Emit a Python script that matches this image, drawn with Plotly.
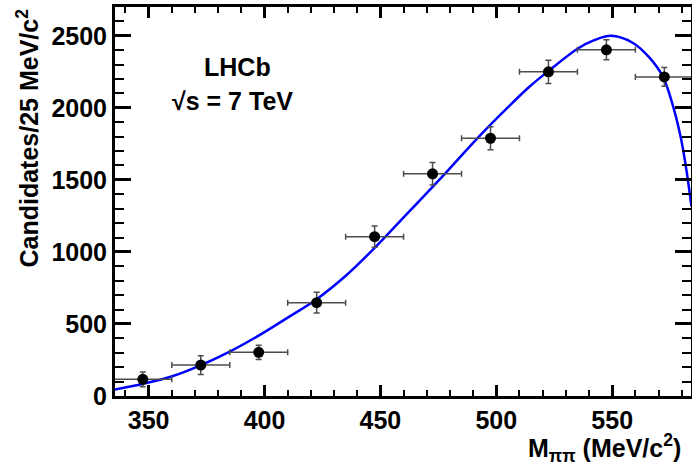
import plotly.graph_objects as go

# Data points (bin centres, 25 MeV bins)
mass = [347.5, 372.5, 397.5, 422.5, 447.5, 472.5, 497.5, 522.5, 547.5, 572.5]
counts = [116, 215, 303, 648, 1106, 1542, 1789, 2250, 2403, 2215]
count_err = [51, 65, 49, 72, 74, 78, 79, 81, 69, 65]
bin_half_width = 12.5

# Fit curve samples
fit_x = [335.5, 347.7, 360.2, 372.1, 385.0, 398.0, 410.2, 422.5, 435.3, 447.5,
         458.3, 478.4, 491.6, 503.0, 514.4, 523.0, 535.2, 542.0, 549.5, 558.8,
         566.0, 572.0, 576.1, 579.7, 582.2, 584.2]
fit_y = [45, 85, 137, 211, 308, 424, 546, 672, 838, 1028,
         1210, 1552, 1785, 1972, 2148, 2262, 2412, 2468, 2500, 2452,
         2350, 2212, 2020, 1785, 1550, 1315]

x_ticks = [350, 400, 450, 500, 550]
y_ticks = [0, 500, 1000, 1500, 2000, 2500]

FONT = "Liberation Sans, Arial, Helvetica, sans-serif"

# plot-area geometry in pixels (for placing free text)
L, T, R, B = 115, 7, 691, 396
PW, PH = R - L, B - T


def px_to_paper(px, py):
    return (px - L) / PW, (B - py) / PH


fig = go.Figure()
fig.add_trace(go.Scatter(
    x=fit_x, y=fit_y, mode="lines",
    line=dict(color="#0000ff", width=2.5, shape="spline", smoothing=1.0),
    hoverinfo="skip", showlegend=False))
fig.add_trace(go.Scatter(
    x=mass, y=counts, mode="markers",
    marker=dict(color="black", size=11),
    error_y=dict(type="data", array=count_err, color="#4d4d4d", thickness=1.5, width=3),
    error_x=dict(type="constant", value=bin_half_width, color="#4d4d4d", thickness=1.5, width=3),
    showlegend=False))

axis_common = dict(
    showgrid=False, zeroline=False, showline=True, linecolor="black", linewidth=3,
    mirror="allticks", ticks="inside", tickcolor="black", tickwidth=3, automargin=False,
    tickfont=dict(family=FONT, size=25, color="black", weight="bold"),
)

fig.update_xaxes(
    range=[335.5, 584], tickvals=x_ticks, ticklen=11,
    minor=dict(dtick=10, tick0=350, ticks="inside", ticklen=6, tickwidth=2, tickcolor="black"),
    **axis_common)
fig.update_yaxes(
    range=[0, 2700], tickvals=y_ticks, ticklen=16,
    minor=dict(dtick=100, tick0=0, ticks="inside", ticklen=9, tickwidth=2, tickcolor="black"),
    **axis_common)

lx, ly = px_to_paper(237, 67)
sx, sy = px_to_paper(232, 101)
tx, ty = px_to_paper(683, 448)
yx, yy = px_to_paper(27, 7)

fig.update_layout(
    width=692, height=465,
    margin=dict(l=L, r=692 - R, t=T, b=465 - B),
    plot_bgcolor="white", paper_bgcolor="white",
    font=dict(family=FONT, color="black"),
    annotations=[
        dict(text="LHCb", x=lx, y=ly, xref="paper", yref="paper", showarrow=False,
             font=dict(family=FONT, size=25, weight="bold"), xanchor="center", yanchor="middle"),
        dict(text="√s = 7 TeV", x=sx, y=sy, xref="paper", yref="paper", showarrow=False,
             font=dict(family=FONT, size=25, weight="bold"), xanchor="center", yanchor="middle"),
        dict(text="M<sub>ππ</sub> (MeV/c<sup>2</sup>)", x=tx, y=ty, xref="paper", yref="paper",
             showarrow=False, font=dict(family=FONT, size=25, weight="bold"),
             xanchor="right", yanchor="middle"),
        dict(text="Candidates/25 MeV/c<sup>2</sup>", x=yx, y=yy, xref="paper", yref="paper",
             showarrow=False, textangle=-90, font=dict(family=FONT, size=25, weight="bold"),
             xanchor="center", yanchor="top"),
    ],
)

fig.write_html("out.html", config={"displayModeBar": False},
               post_script="document.body.style.margin='0';document.body.style.overflow='hidden';")
